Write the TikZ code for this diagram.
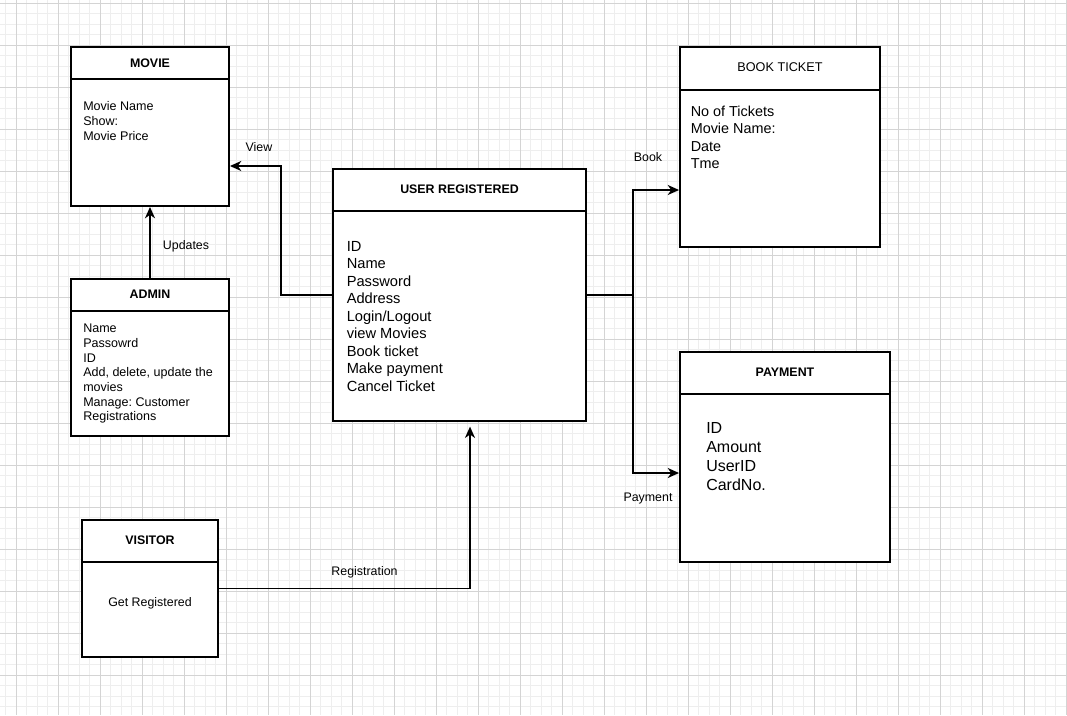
\documentclass[tikz,border=0pt]{standalone}
\usepackage{fontspec}
\setmainfont{Liberation Sans}
\usetikzlibrary{arrows.meta,fit}
\definecolor{gridminor}{HTML}{EEEEEE}
\definecolor{gridmajor}{HTML}{D4D4D4}
\frenchspacing
\begin{document}
\begin{tikzpicture}[x=0.75pt,y=-0.75pt,
  box/.style={draw=black,fill=white,line width=1.4pt,inner sep=0pt},
  sep/.style={line width=1.4pt},
  title/.style={inner sep=0pt,font=\fontsize{9.3}{11}\selectfont\bfseries},
  titleplain/.style={inner sep=0pt,font=\fontsize{9.5}{11}\selectfont},
  body/.style={inner sep=0pt,anchor=north west,align=left},
  lbl/.style={inner sep=0pt,font=\fontsize{9.3}{11}\selectfont},
  arr/.style={line width=1.4pt,-{Stealth[length=8.5pt,width=7.5pt,inset=2.6pt]}},
  link/.style={line width=1.4pt}]
\useasboundingbox (0,0) rectangle (1067,715);
\fill[white] (0,0) rectangle (1067,715);
% background grid
\foreach \i in {0,...,101} \draw[gridminor,line width=0.75pt] (5.5+10.5*\i,0) -- ++(0,715);
\foreach \i in {0,...,67} \draw[gridminor,line width=0.75pt] (0,3+10.5*\i) -- ++(1067,0);
\foreach \i in {0,...,25} \draw[gridmajor,line width=0.75pt] (16+42*\i,0) -- ++(0,715);
\foreach \i in {0,...,16} \draw[gridmajor,line width=0.75pt] (0,3+42*\i) -- ++(1067,0);

% MOVIE
\node[box,fit={(71,47) (229,206)}] (movie) {};
\draw[sep] (71,79) -- (229,79);
\node[title] (movieTitle) at (150,63.3) {MOVIE};
\node[body,font=\fontsize{9.4}{11.25}\selectfont] (movieBody) at (83,101) {Movie Name\\Show:\\Movie Price};

% ADMIN
\node[box,fit={(71,279) (229,436)}] (admin) {};
\draw[sep] (71,310.7) -- (229,310.7);
\node[title] (adminTitle) at (150,294) {ADMIN};
\node[body,font=\fontsize{9.4}{11}\selectfont] (adminBody) at (83,324) {Name\\Passowrd\\ID\\Add, delete, update the\\movies\\Manage: Customer\\Registrations};

% USER REGISTERED
\node[box,fit={(333,169) (586,421)}] (user) {};
\draw[sep] (333,211) -- (586,211);
\node[title] (userTitle) at (459.5,189.3) {USER REGISTERED};
\node[body,font=\fontsize{11}{13.1}\selectfont] (userBody) at (346.5,241) {ID\\Name\\Password\\Address\\Login/Logout\\view Movies\\Book ticket\\Make payment\\Cancel Ticket};

% BOOK TICKET
\node[box,fit={(680,47) (880,247)}] (book) {};
\draw[sep] (680,90) -- (880,90);
\node[titleplain] (bookTitle) at (780,66.7) {BOOK TICKET};
\node[body,font=\fontsize{10.8}{13}\selectfont] (bookBody) at (690.5,105.7) {No of Tickets\\Movie Name:\\Date\\Tme};

% PAYMENT
\node[box,fit={(680,352) (890,562)}] (pay) {};
\draw[sep] (680,394) -- (890,394);
\node[title] (payTitle) at (785,372) {PAYMENT};
\node[body,font=\fontsize{12}{14.25}\selectfont] (payBody) at (706,422.7) {ID\\Amount\\UserID\\CardNo.};

% VISITOR
\node[box,fit={(82,520) (218,657)}] (visitor) {};
\draw[sep] (82,562) -- (218,562);
\node[title] (visitorTitle) at (150,540) {VISITOR};
\node[lbl] (visitorBody) at (150,603) {Get Registered};

% connector bends
\coordinate (viewBend) at (281,166);
\coordinate (bookBend) at (633,190);
\coordinate (payBend) at (633,473);
\coordinate (regBend) at (470,588.5);

% connectors
\draw[arr] (user.west) -| (viewBend) -- (movie.east |- viewBend);
\draw[arr] (admin.north) -- (movie.south);
\draw[arr] (user.east) -| (bookBend) -- (book.west |- bookBend);
\draw[arr] (user.east) -| (payBend) -- (pay.west |- payBend);
\draw[arr,shorten >=3.5pt] (visitor.east) -- (regBend) -- (regBend |- user.south);

% connector labels
\node[lbl] (lblView) at (259,147.5) {View};
\node[lbl] (lblUpdates) at (186,246.5) {Updates};
\node[lbl] (lblBook) at (648,157.5) {Book};
\node[lbl] (lblPayment) at (648,498.5) {Payment};
\node[lbl] (lblReg) at (364.5,572) {Registration};
\end{tikzpicture}
\end{document}
